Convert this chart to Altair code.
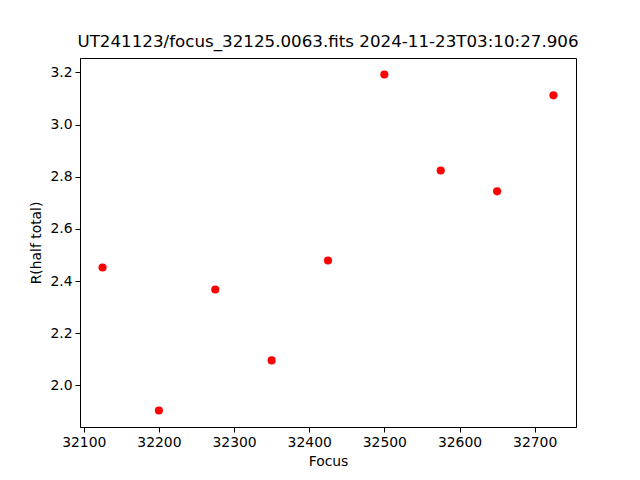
import altair as alt
import pandas as pd

focus = [32125, 32200, 32275, 32350, 32425, 32500, 32575, 32650, 32725]
r_half = [2.452, 1.904, 2.368, 2.096, 2.479, 3.192, 2.824, 2.744, 3.112]
x_ticks = [32100, 32200, 32300, 32400, 32500, 32600, 32700]
y_ticks = [2.0, 2.2, 2.4, 2.6, 2.8, 3.0, 3.2]

df = pd.DataFrame({"Focus": focus, "R": r_half})

font = "DejaVu Sans"
chart = alt.Chart(df).mark_circle(color="red", opacity=1, size=66).encode(
    x=alt.X("Focus:Q", scale=alt.Scale(domain=[32095, 32755], nice=False, zero=False),
            axis=alt.Axis(values=x_ticks, title="Focus", format="d", grid=False,
                          labelFont=font, labelFontSize=13.9, titleFont=font, titleFontSize=13.9,
                          titleFontWeight="normal", labelColor="black", titleColor="black",
                          tickColor="black", domainColor="black", tickSize=5, labelPadding=3, titlePadding=6)),
    y=alt.Y("R:Q", scale=alt.Scale(domain=[1.8408, 3.2552], nice=False, zero=False),
            axis=alt.Axis(values=y_ticks, title="R(half total)", format=".1f", grid=False,
                          labelFont=font, labelFontSize=13.9, titleFont=font, titleFontSize=13.9,
                          titleFontWeight="normal", labelColor="black", titleColor="black",
                          tickColor="black", domainColor="black", tickSize=5, labelPadding=3, titlePadding=6)),
).properties(
    width=496, height=369,
    title=alt.TitleParams("UT241123/focus_32125.0063.fits 2024-11-23T03:10:27.906",
                          font=font, fontSize=16.7, fontWeight="normal", color="black", offset=7),
    autosize=alt.AutoSizeParams(type="none"),
    padding={"left": 72, "top": 50, "right": 56, "bottom": 45},
).configure_view(stroke="black", strokeWidth=1)

chart.save("out.html", embed_options={"renderer": "svg", "actions": False})
